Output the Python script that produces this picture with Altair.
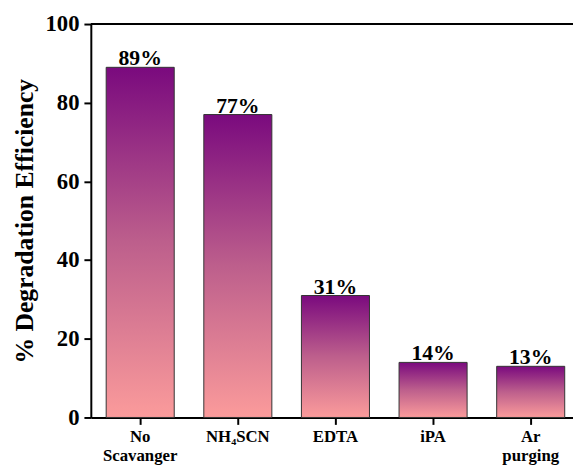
import altair as alt
import pandas as pd

categories = ["No Scavanger", "NH₄SCN", "EDTA", "iPA", "Ar purging"]
values = [89, 77, 31, 14, 13]
labels = ["89%", "77%", "31%", "14%", "13%"]

df = pd.DataFrame({"cat": categories, "val": values, "lab": labels})
top_df = pd.DataFrame({"v": [100]})

FONT = "Liberation Serif"

x_enc = alt.X(
    "cat:N",
    sort=categories,
    scale=alt.Scale(paddingInner=0.303, paddingOuter=0.121, align=0.65),
    axis=alt.Axis(
        title=None,
        labelAngle=0,
        labelFont=FONT,
        labelFontWeight="bold",
        labelFontSize=17,
        labelColor="black",
        labelPadding=4,
        labelLineHeight=20,
        labelExpr="split(datum.value, ' ')",
        domainColor="black",
        domainWidth=2,
        tickColor="black",
        tickWidth=2,
        tickSize=7,
    ),
)

y_enc = alt.Y(
    "val:Q",
    scale=alt.Scale(domain=[0, 100], nice=False),
    axis=alt.Axis(
        title="% Degradation Efficiency",
        titleFont=FONT,
        titleFontWeight="bold",
        titleFontSize=26,
        titleColor="black",
        titlePadding=8,
        values=[0, 20, 40, 60, 80, 100],
        labelFont=FONT,
        labelFontWeight="bold",
        labelFontSize=23,
        labelColor="black",
        labelPadding=5,
        domainColor="black",
        domainWidth=2,
        tickColor="black",
        tickWidth=2,
        tickSize=7,
        grid=False,
    ),
)

gradient = alt.Gradient(
    gradient="linear",
    x1=0, y1=0, x2=0, y2=1,
    stops=[
        alt.GradientStop(color="#7a0a7e", offset=0),
        alt.GradientStop(color="#bd5f8c", offset=0.5),
        alt.GradientStop(color="#fb9b9b", offset=1),
    ],
)

bars = alt.Chart(df).mark_bar(
    color=gradient, stroke="#333333", strokeWidth=1
).encode(x=x_enc, y=y_enc)

text = alt.Chart(df).mark_text(
    font=FONT, fontWeight="bold", fontSize=22, color="black",
    baseline="alphabetic", dy=-2
).encode(
    x=alt.X("cat:N", sort=categories),
    y=alt.Y("val:Q"),
    text="lab:N",
)

top_line = alt.Chart(top_df).mark_rule(color="black", strokeWidth=2).encode(
    y=alt.Y("v:Q")
)

chart = alt.layer(bars, text, top_line).properties(
    width=489,
    height=399,
    autosize=alt.AutoSizeParams(type="none"),
    padding={"left": 84, "top": 13, "right": 0, "bottom": 50},
).configure_view(stroke=None).configure(background="white")

chart.save("out.html", embed_options={"renderer": "svg", "actions": False})
